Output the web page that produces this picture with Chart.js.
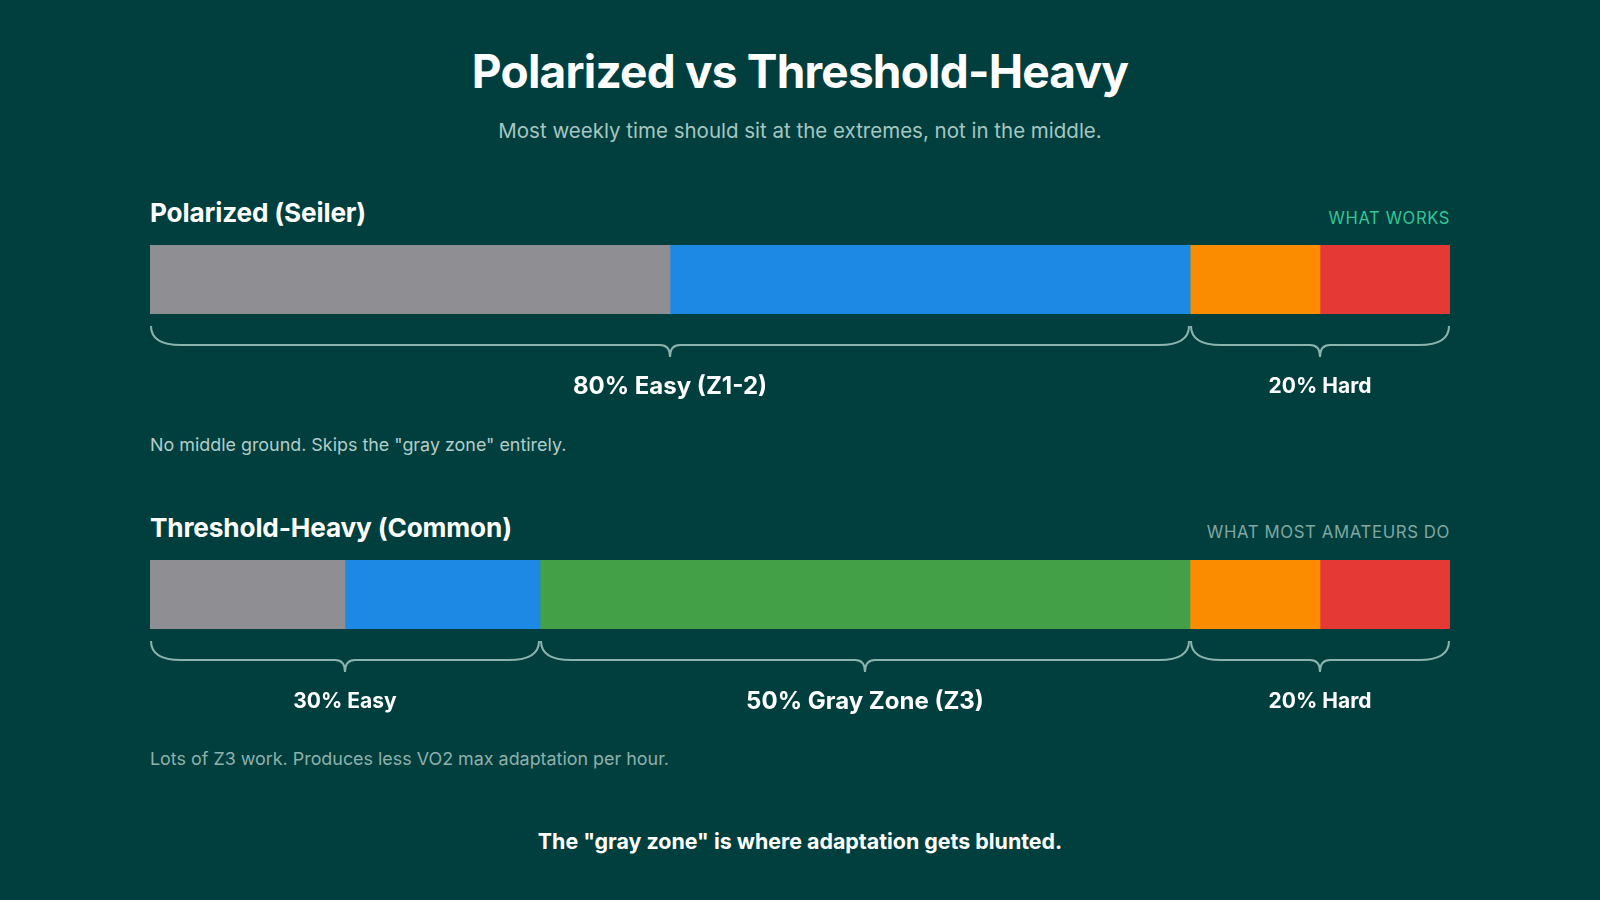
<!DOCTYPE html>
<html lang="en">
<head>
  <meta charset="UTF-8">
  <title>Polarized vs Threshold-Heavy</title>
  <script src="https://cdn.jsdelivr.net/npm/chart.js"></script>
  <style>
    html, body { margin: 0; padding: 0; }
    body {
      width: 1600px; height: 900px; position: relative; overflow: hidden;
      background: #003f3e; font-family: Inter, "Noto Sans", sans-serif; color: #fff;
    }
    .abs { position: absolute; white-space: nowrap; line-height: 1; }
    #title { left: 0; width: 1600px; top: 48px; text-align: center; font-size: 46px; font-weight: 700; letter-spacing: -0.8px; }
    #subtitle { left: 0; width: 1600px; top: 121px; text-align: center; font-size: 20.5px; color: #a7c6c1; }
    .section { left: 150px; font-size: 26.2px; font-weight: 700; letter-spacing: -0.15px; }
    .tag { right: 150px; letter-spacing: 0.6px; }
    .note { left: 150px; font-size: 17.9px; }
    .wrap { position: absolute; left: 150px; width: 1300px; height: 170px; }
    #footer { left: 0; width: 1600px; top: 831px; text-align: center; font-size: 21.4px; font-weight: 700; }
  </style>
</head>
<body>
  <div id="title" class="abs">Polarized vs Threshold-Heavy</div>
  <div id="subtitle" class="abs">Most weekly time should sit at the extremes, not in the middle.</div>

  <div class="abs section" style="top:200px">Polarized (Seiler)</div>
  <div class="abs tag" style="top:210px;font-size:16.6px;color:#37c497">WHAT WORKS</div>
  <div class="wrap" style="top:245px"><canvas id="polarizedChart"></canvas></div>
  <div class="abs note" style="top:436px;color:#b3cdc9">No middle ground. Skips the "gray zone" entirely.</div>

  <div class="abs section" style="top:515px">Threshold-Heavy (Common)</div>
  <div class="abs tag" style="top:524px;font-size:16.8px;color:#80a7a1">WHAT MOST AMATEURS DO</div>
  <div class="wrap" style="top:560px"><canvas id="thresholdChart"></canvas></div>
  <div class="abs note" style="top:750px;color:#8fb0ab">Lots of Z3 work. Produces less VO2 max adaptation per hour.</div>

  <div id="footer" class="abs">The "gray zone" is where adaptation gets blunted.</div>

  <script>
    // share of weekly time per zone (%)
    const zones = ['Z1', 'Z2', 'Z3', 'Z4', 'Z5'];
    const polarizedShare = [40, 40, 0, 10, 10];
    const thresholdShare = [15, 15, 50, 10, 10];
    const zoneColors = ['#8e8e93', '#1e88e5', '#43a047', '#fb8c00', '#e53935'];

    // brace groups: label, start %, end %
    const polarizedGroups = [
      ['80% Easy (Z1-2)', 0, 80],
      ['20% Hard', 80, 100]
    ];
    const thresholdGroups = [
      ['30% Easy', 0, 30],
      ['50% Gray Zone (Z3)', 30, 80],
      ['20% Hard', 80, 100]
    ];

    const bracePlugin = {
      id: 'braces',
      afterDraw(chart, args, opts) {
        const ctx = chart.ctx;
        const x = chart.scales.x;
        const top = chart.chartArea.bottom + 12;
        const mid = top + 19;
        const tip = top + 31;
        ctx.save();
        ctx.strokeStyle = '#8db3ae';
        ctx.lineWidth = 2;
        opts.groups.forEach(([label, from, to]) => {
          const x0 = x.getPixelForValue(from) + 1;
          const x1 = x.getPixelForValue(to) - 1;
          const xm = (x0 + x1) / 2;
          ctx.beginPath();
          ctx.moveTo(x0, top);
          ctx.quadraticCurveTo(x0, mid, x0 + 30, mid);
          ctx.lineTo(xm - 10, mid);
          ctx.quadraticCurveTo(xm, mid, xm, tip);
          ctx.quadraticCurveTo(xm, mid, xm + 10, mid);
          ctx.lineTo(x1 - 30, mid);
          ctx.quadraticCurveTo(x1, mid, x1, top);
          ctx.stroke();

          const size = (to - from) >= 40 ? 24 : 21;
          ctx.fillStyle = '#ffffff';
          ctx.font = '700 ' + size + 'px Inter, "Noto Sans", sans-serif';
          ctx.textAlign = 'center';
          ctx.textBaseline = 'middle';
          ctx.fillText(label, xm, top + 61);
        });
        ctx.restore();
      }
    };

    function makeBar(id, shares, groups) {
      const ctx = document.getElementById(id).getContext('2d');
      return new Chart(ctx, {
        type: 'bar',
        data: {
          labels: ['week'],
          datasets: zones.map((z, i) => ({
            label: z,
            data: [shares[i]],
            backgroundColor: zoneColors[i],
            borderWidth: 0,
            barPercentage: 1,
            categoryPercentage: 1
          }))
        },
        options: {
          indexAxis: 'y',
          responsive: true,
          maintainAspectRatio: false,
          animation: false,
          layout: { padding: { bottom: 101 } },
          scales: {
            x: { stacked: true, min: 0, max: 100, display: false },
            y: { stacked: true, display: false }
          },
          plugins: {
            legend: { display: false },
            tooltip: { enabled: false },
            braces: { groups: groups }
          }
        },
        plugins: [bracePlugin]
      });
    }

    makeBar('polarizedChart', polarizedShare, polarizedGroups);
    makeBar('thresholdChart', thresholdShare, thresholdGroups);
  </script>
</body>
</html>
